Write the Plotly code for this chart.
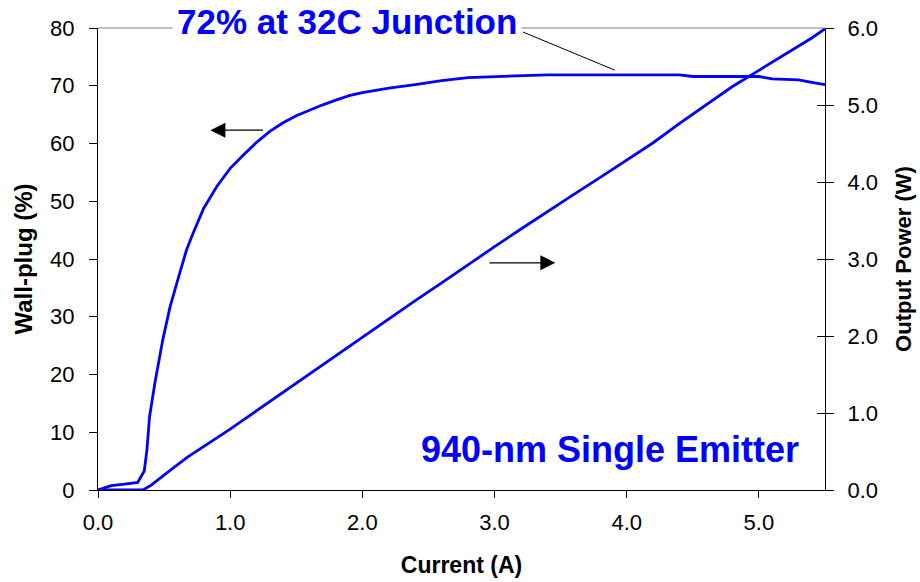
import plotly.graph_objects as go

# Wall-plug efficiency (%) vs drive current (A)
wp_current = [0.0, 0.1, 0.2, 0.3, 0.35, 0.37, 0.39, 0.43, 0.49, 0.545, 0.61, 0.67,
              0.72, 0.8, 0.9, 1.0, 1.1, 1.2, 1.3, 1.4, 1.5, 1.6, 1.7, 1.8, 1.9,
              2.0, 2.1, 2.2, 2.4, 2.6, 2.8, 3.0, 3.2, 3.4, 3.6, 4.0, 4.4, 4.5,
              5.0, 5.1, 5.3, 5.4, 5.5]
wall_plug = [0.0, 0.75, 1.0, 1.3, 3.3, 6.9, 12.7, 18.5, 26.0, 31.7, 36.9, 41.6,
             44.5, 48.8, 52.6, 55.7, 58.0, 60.2, 62.1, 63.6, 64.8, 65.8, 66.7, 67.5, 68.3,
             68.8, 69.2, 69.6, 70.2, 70.9, 71.4, 71.6, 71.8, 71.9, 71.9, 71.9, 71.9, 71.6,
             71.6, 71.2, 71.0, 70.6, 70.2]

# Output power (W) vs drive current (A)
pw_current = [0.0, 0.2, 0.34, 0.4, 0.48, 0.58, 0.68, 0.77, 0.88, 1.0, 1.1, 1.2, 1.3,
              1.4, 1.5, 1.6, 1.7, 1.8, 1.9, 2.0, 2.2, 2.4, 2.6, 2.8, 3.0, 3.2, 3.4,
              3.6, 3.8, 4.0, 4.2, 4.4, 4.6, 4.8, 5.0, 5.2, 5.4, 5.5]
power = [0.0, 0.0, 0.0, 0.06, 0.17, 0.30, 0.43, 0.53, 0.66, 0.79, 0.91, 1.03, 1.15,
         1.27, 1.39, 1.51, 1.62, 1.74, 1.86, 1.98, 2.22, 2.46, 2.69, 2.93, 3.16, 3.39, 3.62,
         3.84, 4.06, 4.28, 4.51, 4.76, 5.00, 5.24, 5.45, 5.66, 5.87, 5.99]

FONT = "Arial, Liberation Sans, sans-serif"
BLUE = "#0000FF"

fig = go.Figure()
fig.add_trace(go.Scatter(x=wp_current, y=wall_plug, mode="lines",
                         line=dict(color=BLUE, width=2.8), yaxis="y", showlegend=False))
fig.add_trace(go.Scatter(x=pw_current, y=power, mode="lines",
                         line=dict(color=BLUE, width=2.8), yaxis="y2", showlegend=False))

axis_common = dict(showgrid=False, zeroline=False, showline=True, linecolor="black",
                   linewidth=1, tickcolor="black", tickwidth=1, automargin=False,
                   tickfont=dict(family=FONT, size=22, color="black"))

fig.update_layout(
    width=920, height=582,
    margin=dict(l=98, r=95, t=28, b=92),
    paper_bgcolor="white", plot_bgcolor="white",
    xaxis=dict(range=[0, 5.5], tickvals=[0, 1, 2, 3, 4, 5], tickformat=".1f",
               ticks="outside", ticklen=7, ticklabelstandoff=6,
               title=dict(text="<b>Current (A)</b>", font=dict(family=FONT, size=23, color="black"),
                          standoff=22),
               **axis_common),
    yaxis=dict(range=[0, 80], dtick=10, ticks="outside", ticklen=8, ticklabelstandoff=10,
               title=dict(text="<b>Wall-plug (%)</b>", font=dict(family=FONT, size=24, color="black"),
                          standoff=10),
               **axis_common),
    yaxis2=dict(range=[0, 6], dtick=1, tickformat=".1f", overlaying="y", side="right",
                anchor="x", ticks="outside", ticklen=8, ticklabelstandoff=9,
                title=dict(text="<b>Output Power (W)</b>", font=dict(family=FONT, size=22, color="black"),
                           standoff=18),
                **axis_common),
    # inner half of the crossing ticks on the power axis
    yaxis3=dict(range=[0, 6], dtick=1, overlaying="y", side="right", anchor="x",
                ticks="inside", ticklen=8, tickcolor="black", tickwidth=1, automargin=False,
                showticklabels=False, showgrid=False, zeroline=False, showline=False),
)
fig.add_trace(go.Scatter(x=[None], y=[None], yaxis="y3", showlegend=False, hoverinfo="skip"))

# grey top frame line
fig.add_shape(type="line", xref="paper", yref="paper", x0=0, x1=1, y0=1, y1=1,
              line=dict(color="#808080", width=1))

# leader line from the headline to the efficiency plateau
fig.add_shape(type="line", xref="x", yref="y", x0=3.215, y0=79.3, x1=3.91, y1=72.7,
              line=dict(color="black", width=1))

fig.add_annotation(x=0.3425, y=1.013, xref="paper", yref="paper", showarrow=False,
                   xanchor="center", yanchor="middle",
                   text="<b>72% at 32C Junction</b>",
                   font=dict(family=FONT, size=35, color=BLUE),
                   bgcolor="white", borderpad=4)
fig.add_annotation(x=3.87, y=7.0, xref="x", yref="y", showarrow=False,
                   text="<b>940-nm Single Emitter</b>",
                   font=dict(family=FONT, size=36, color=BLUE))

# direction arrows pointing to each curve's axis
fig.add_annotation(x=0.85, y=62.3, ax=1.26, ay=62.3, xref="x", yref="y",
                   axref="x", ayref="y", text="", showarrow=True,
                   arrowhead=2, arrowsize=2.5, arrowwidth=1.2, arrowcolor="black")
fig.add_annotation(x=3.46, y=2.95, ax=2.95, ay=2.95, xref="x", yref="y2",
                   axref="x", ayref="y2", text="", showarrow=True,
                   arrowhead=2, arrowsize=2.5, arrowwidth=1.2, arrowcolor="black")

fig.write_html("out.html")
